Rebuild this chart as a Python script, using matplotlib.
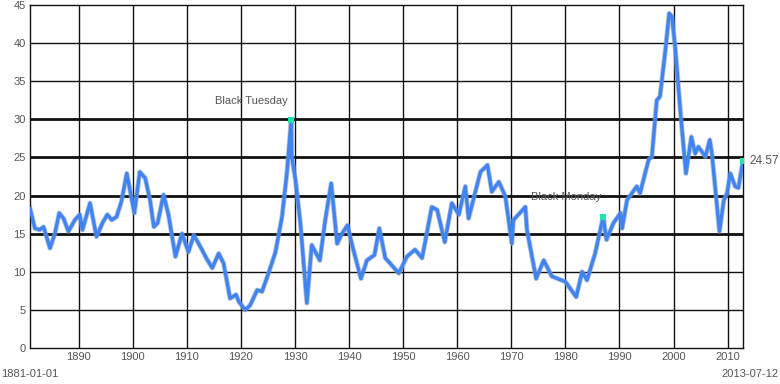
import matplotlib
matplotlib.use("Agg")
import matplotlib.pyplot as plt

# Shiller P/E (CAPE) ratio
years = [1881.0, 1881.9, 1882.8, 1883.5, 1884.7, 1885.6, 1886.4, 1887.2, 1888.1, 1889.3,
         1890.2, 1890.7, 1892.1, 1893.3, 1894.4, 1895.3, 1896.1, 1897.0, 1897.9, 1898.9,
         1900.3, 1901.3, 1902.3, 1903.2, 1903.9, 1904.6, 1905.7, 1906.6, 1907.9, 1909.1,
         1910.3, 1911.3, 1912.5, 1913.6, 1914.7, 1915.9, 1916.8, 1918.0, 1919.1, 1919.6,
         1920.8, 1921.7, 1923.0, 1923.9, 1925.1, 1926.4, 1927.6, 1928.5, 1929.3, 1929.4,
         1930.1, 1931.0, 1932.2, 1933.1, 1934.6, 1935.6, 1936.7, 1937.8, 1938.7, 1939.7,
         1940.5, 1942.2, 1943.3, 1944.7, 1945.6, 1946.7, 1947.6, 1949.2, 1950.7, 1952.2,
         1953.5, 1955.3, 1956.3, 1957.7, 1959.0, 1960.3, 1961.5, 1962.1, 1964.3, 1965.6,
         1966.4, 1967.7, 1968.9, 1970.1, 1970.4, 1972.6, 1972.9, 1974.6, 1976.0, 1977.5,
         1980.0, 1982.0, 1983.1, 1984.0, 1985.5, 1987.0, 1987.6, 1988.9, 1990.2, 1990.5,
         1991.4, 1993.2, 1993.8, 1995.4, 1996.0, 1996.9, 1997.5, 1998.5, 1999.2, 1999.7,
         2000.3, 2001.3, 2002.3, 2003.3, 2004.0, 2004.6, 2005.9, 2006.7, 2007.1, 2008.5,
         2009.3, 2009.9, 2010.5, 2011.4, 2012.0, 2012.85]
cape = [18.3, 15.7, 15.5, 15.9, 13.1, 15.0, 17.7, 17.0, 15.3, 16.8,
        17.5, 15.5, 19.0, 14.6, 16.4, 17.5, 16.8, 17.2, 19.2, 22.9,
        17.7, 23.1, 22.3, 19.4, 15.9, 16.4, 20.1, 17.5, 12.0, 15.0,
        12.6, 14.8, 13.3, 11.8, 10.5, 12.4, 11.1, 6.5, 7.0, 6.1,
        5.0, 5.6, 7.6, 7.4, 9.8, 12.6, 17.2, 22.9, 29.9, 25.1,
        22.0, 16.4, 5.9, 13.5, 11.5, 16.8, 21.6, 13.7, 15.0, 16.1,
        13.7, 9.1, 11.5, 12.2, 15.7, 11.8, 11.1, 9.8, 12.0, 12.9,
        11.8, 18.5, 18.1, 13.9, 19.0, 17.5, 21.2, 17.0, 23.1, 24.0,
        20.5, 21.8, 19.9, 13.7, 16.8, 18.5, 15.5, 9.1, 11.5, 9.4,
        8.7, 6.7, 10.0, 8.9, 12.4, 17.2, 14.2, 16.4, 17.7, 15.7,
        19.4, 21.2, 20.3, 24.7, 25.1, 32.5, 33.0, 39.1, 43.9, 43.5,
        39.5, 30.8, 22.9, 27.7, 25.5, 26.4, 25.1, 27.3, 25.5, 15.3,
        19.4, 20.3, 22.9, 21.2, 21.0, 24.57]

event_names = ["Black Tuesday", "Black Monday"]
event_years = [1929.3, 1987.0]
event_values = [29.9, 17.2]
label_pos = [(1921.9, 32.4), (1980.2, 19.8)]

y_ticks = [0, 5, 10, 15, 20, 25, 30, 35, 40, 45]
x_ticks = [1890, 1900, 1910, 1920, 1930, 1940, 1950, 1960, 1970, 1980, 1990, 2000, 2010]

plt.rcParams['font.family'] = ['Liberation Sans', 'DejaVu Sans']
grey = '#555555'

fig = plt.figure(figsize=(7.8, 3.84), dpi=100)
ax = fig.add_axes([30 / 780, 1 - 348 / 384, 713 / 780, 343 / 384])

# grid: thin decade lines, heavier lines for 15-30
for x in x_ticks:
    ax.axvline(x, color='#111111', lw=1.0, zorder=1)
for y in y_ticks[1:-1]:
    lw = 2.0 if 15 <= y <= 30 else 1.0
    ax.axhline(y, color='#111111', lw=lw, zorder=1)

ax.plot(years, cape, color='#8a9bb8', lw=3.6, alpha=0.6, solid_joinstyle='round', zorder=2)
ax.plot(years, cape, color='#3f84f2', lw=2.4, solid_joinstyle='round', zorder=3)

ax.scatter(event_years + [years[-1]], event_values + [cape[-1]], marker='s', s=16,
           color='#22e3b0', zorder=4, linewidths=0)
for name, (lx, ly) in zip(event_names, label_pos):
    ax.text(lx, ly, name, ha='center', va='center', fontsize=8, color=grey, zorder=5)
ax.text(years[-1] + 1.1, cape[-1], f"{cape[-1]:.2f}", ha='left', va='center',
        fontsize=8.5, color=grey, clip_on=False)

ax.set_xlim(1881, 2012.85)
ax.set_ylim(0, 45)
ax.set_xticks(x_ticks)
ax.set_yticks(y_ticks)
ax.tick_params(length=0, labelsize=8, labelcolor=grey, pad=3)
for s in ax.spines.values():
    s.set_color('#111111')
    s.set_linewidth(1.0)

fig.text(1 / 780, 1 - 374 / 384, "1881-01-01", ha='left', va='center', fontsize=8, color=grey)
fig.text(779 / 780, 1 - 374 / 384, "2013-07-12", ha='right', va='center', fontsize=8, color=grey)

fig.savefig('out.png', dpi=100)
